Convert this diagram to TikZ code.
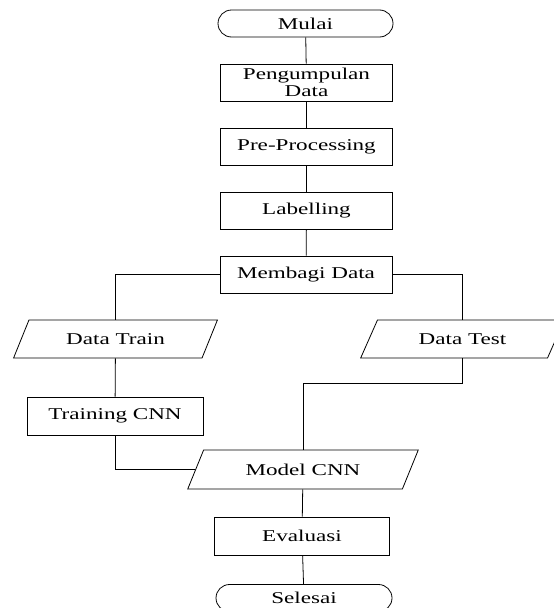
\documentclass[tikz,border=0pt]{standalone}
\usepackage{fontspec}
\setmainfont{Liberation Serif}[FakeStretch=1.4]
\usetikzlibrary{shapes.geometric,shapes.misc}
\begin{document}
\begin{tikzpicture}[x=1pt,y=-1pt, line width=0.8pt,
  every node/.style={font=\fontsize{16.5}{17}\selectfont, inner sep=0pt},
  procbox/.style={draw, rectangle, minimum width=172pt, minimum height=37pt, align=center},
  termbox/.style={draw, rounded rectangle, minimum width=175pt, minimum height=27pt},
  iobox/.style={draw, trapezium, trapezium left angle=51.7, trapezium right angle=128.3,
    trapezium stretches=true, minimum width=204pt, minimum height=38pt}]
\useasboundingbox (0,0) rectangle (554,608);
\node[termbox] (mulai) at (305.5,23.5) {Mulai};
\node[procbox] (kumpul) at (306.5,82.5) {Pengumpulan\\Data};
\node[procbox] (pre) at (306.5,147) {Pre-Processing};
\node[procbox] (label) at (306.5,211) {Labelling};
\node[procbox] (bagi) at (306,274.5) {Membagi Data};
\node[iobox] (dtrain) at (115.5,339) {Data Train};
\node[iobox] (dtest) at (462.5,339) {Data Test};
\node[procbox, minimum width=176pt, minimum height=38pt] (train) at (115,416) {Training CNN};
\node[iobox, minimum width=231pt, minimum height=39pt] (model) at (303,469.5) {Model CNN};
\node[procbox, minimum width=175pt, minimum height=38pt] (eval) at (302,536) {Evaluasi};
\node[termbox, minimum width=176pt] (selesai) at (304,598) {Selesai};
\draw (mulai) -- (kumpul);
\draw (kumpul) -- (pre);
\draw (pre) -- (label);
\draw (label) -- (bagi);
\draw (bagi.west) -| (dtrain.north);
\draw (bagi.east) -| (dtest.north);
\draw (dtrain) -- (train);
\draw (dtest.south) -- ++(0,25) -| (model.north);
\draw (train.south) |- (model.west);
\draw (model) -- (eval);
\draw (eval) -- (selesai);
\end{tikzpicture}
\end{document}
